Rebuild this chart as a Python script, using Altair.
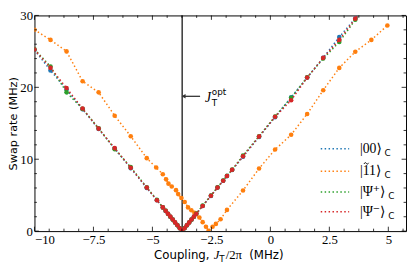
import altair as alt
import pandas as pd

# ---------------- data ----------------
X_V = [-10.0, -9.32, -8.64, -7.96, -7.28, -6.6, -5.92, -5.24, -4.81, -4.56,
       -4.44, -4.34, -4.24, -4.14, -4.04, -3.94, -3.84, -3.74, -3.64, -3.54,
       -3.44, -3.34, -3.24, -3.14,
       -2.87, -2.52, -2.24, -2.0, -1.84, -1.62, -1.16, -0.48,
       0.2, 0.88, 1.56, 2.24, 2.92, 3.6, 4.28, 4.96]
Y_00 = [25.2, 22.35, 19.7, 16.95, 14.2, 11.5, 8.75, 6.0, 4.3, 3.3,
        2.8, 2.4, 2.0, 1.6, 1.2, 0.8, 0.4, 0.02, 0.4, 0.8, 1.2, 1.6, 2.0, 2.4,
        3.5, 4.9, 6.05, 7.0, 7.65, 8.5, 10.35, 13.1,
        15.85, 18.6, 21.35, 24.1, 27.0, 29.6, 32.3, 35.0]
Y_PSIP = [25.3, 22.9, 19.3, 17.0, 14.3, 11.4, 8.9, 6.1, 4.35, 3.3,
          2.85, 2.4, 2.0, 1.6, 1.2, 0.8, 0.4, 0.02, 0.4, 0.8, 1.2, 1.6, 2.0, 2.45,
          3.55, 4.95, 6.1, 7.05, 7.7, 8.55, 10.5, 13.2,
          15.95, 18.55, 21.4, 24.0, 26.3, 29.4, 32.2, 34.9]
Y_PSIM = [25.25, 22.7, 19.9, 17.05, 14.25, 11.55, 8.8, 6.05, 4.3, 3.3,
          2.82, 2.42, 2.02, 1.61, 1.21, 0.81, 0.4, 0.02, 0.4, 0.81, 1.21, 1.61, 2.02, 2.42,
          3.5, 4.92, 6.05, 7.0, 7.66, 8.54, 10.4, 13.15,
          15.9, 18.2, 21.35, 24.1, 26.6, 29.55, 32.3, 35.05]

X_11 = [-10.0, -9.32, -8.64, -7.96, -7.28, -6.6, -5.92, -5.24,
        -4.84, -4.56, -4.42, -4.32, -4.18, -4.0, -3.91, -3.77, -3.63, -3.49,
        -3.35, -3.22, -3.01, -2.87, -2.73, -2.62, -2.45, -2.31, -2.11,
        -1.84, -1.16, -0.48, 0.2, 0.88, 1.56, 2.24, 2.92, 3.6, 4.28, 4.96]
Y_11 = [28.0, 26.6, 25.0, 20.85, 19.3, 16.05, 13.2, 10.15,
        8.85, 7.9, 7.2, 6.6, 6.2, 5.7, 5.15, 4.6, 4.05, 3.3,
        2.9, 2.55, 1.9, 1.25, 0.6, 0.05, 0.6, 1.0, 1.65,
        2.95, 5.65, 8.7, 11.35, 13.4, 16.3, 19.6, 22.7, 24.95, 26.6, 28.6]

J_OPT = -3.74
ARROW_Y = 18.75
ARROW_TAIL_X = -2.98

X_MAJOR = [-10, -7.5, -5, -2.5, 0, 2.5, 5]
X_MINOR = [-9.375, -8.75, -8.125, -6.875, -6.25, -5.625, -4.375, -3.75, -3.125,
           -1.875, -1.25, -0.625, 0.625, 1.25, 1.875, 3.125, 3.75, 4.375, 5.625]
Y_MAJOR = [0, 10, 20, 30]
Y_MINOR = [2, 4, 6, 8, 12, 14, 16, 18, 22, 24, 26, 28]

LEGEND_LABELS = ["|00⟩", "|11⟩", "|Ψ⁺⟩", "|Ψ⁻⟩"]
COLORS = ["#1f77b4", "#ff7f0e", "#2ca02c", "#d62728"]
LEGEND_Y = [11.46, 8.33, 5.45, 2.7]   # legend rows, in data units of the y axis

# ---------------- layout constants ----------------
W, H = 379, 220
X_DOMAIN = [-10, 5.75]
Y_DOMAIN = [0, 30]
SERIF = "Liberation Serif, DejaVu Serif"
SANS = "DejaVu Sans"
DASH = [1.5, 2.5]
SUB_C_X = [357, 357, 361, 361]
TILDE_PATH = "M -1 0.25 C -0.6 -0.55 -0.25 -0.45 0 0 C 0.25 0.45 0.6 0.55 1 -0.25"

X_ENC = alt.X("x:Q", scale=alt.Scale(domain=X_DOMAIN, nice=False, zero=False),
              axis=alt.Axis(values=X_MAJOR, title=None, ticks=False, domain=False, grid=False,
                            labelExpr="replace(format(datum.value, '~g'), '-', '−')",
                            labelFont=SERIF, labelFontSize=13, labelColor="black",
                            labelPadding=3, labelBaseline="top"))
Y_ENC = alt.Y("y:Q", scale=alt.Scale(domain=Y_DOMAIN, nice=False, zero=False),
              axis=alt.Axis(values=Y_MAJOR, title="Swap rate (MHz)", ticks=False, domain=False,
                            grid=False, labelFont=SERIF, labelFontSize=13, labelColor="black",
                            labelPadding=2, titleFont=SANS, titleFontSize=11.5,
                            titleFontWeight="normal", titleColor="black", titlePadding=1))

layers = []

# optimal coupling line
layers.append(alt.Chart(pd.DataFrame({"x": [J_OPT]})).mark_rule(color="black", strokeWidth=1.2)
              .encode(x=X_ENC))

series = [(X_V, Y_00, COLORS[0]), (X_11, Y_11, COLORS[1]),
          (X_V, Y_PSIP, COLORS[2]), (X_V, Y_PSIM, COLORS[3])]
for xs, ys, col in series:
    df = pd.DataFrame({"x": xs, "y": ys})
    layers.append(alt.Chart(df).mark_line(strokeDash=DASH, strokeWidth=1.5, clip=True, color=col)
                  .encode(x=X_ENC, y=Y_ENC))
    layers.append(alt.Chart(df).mark_circle(size=22, opacity=1, clip=True, color=col)
                  .encode(x=X_ENC, y=Y_ENC))

# inward ticks on all four sides
for vals, L in ((X_MAJOR, 4.5), (X_MINOR, 2.5)):
    d = pd.DataFrame({"x": vals})
    layers.append(alt.Chart(d).mark_rule(color="black", strokeWidth=0.8)
                  .encode(x=X_ENC, y=alt.value(H), y2=alt.value(H - L)))
    layers.append(alt.Chart(d).mark_rule(color="black", strokeWidth=0.8)
                  .encode(x=X_ENC, y=alt.value(0), y2=alt.value(L)))
for vals, L in ((Y_MAJOR, 4.5), (Y_MINOR, 2.5)):
    d = pd.DataFrame({"y": vals})
    layers.append(alt.Chart(d).mark_rule(color="black", strokeWidth=0.8)
                  .encode(y=Y_ENC, x=alt.value(0), x2=alt.value(L)))
    layers.append(alt.Chart(d).mark_rule(color="black", strokeWidth=0.8)
                  .encode(y=Y_ENC, x=alt.value(W), x2=alt.value(W - L)))

# annotation arrow  J_T^opt
arrow_df = pd.DataFrame({"x": [J_OPT + 0.06], "x2": [ARROW_TAIL_X], "y": [ARROW_Y]})
layers.append(alt.Chart(arrow_df).mark_rule(color="#333333", strokeWidth=1.3)
              .encode(x=X_ENC, x2="x2:Q", y=Y_ENC))
layers.append(alt.Chart(arrow_df).mark_point(shape="triangle-left", filled=True, size=22,
                                             color="#333333", opacity=1)
              .encode(x=X_ENC, y=Y_ENC))
lab_df = pd.DataFrame({"x": [ARROW_TAIL_X], "y": [ARROW_Y]})
layers.append(alt.Chart(lab_df).mark_text(text="J", font=SERIF, fontStyle="italic", fontSize=14,
                                          align="left", baseline="middle", dx=5, dy=2, color="black")
              .encode(x=X_ENC, y=Y_ENC))
layers.append(alt.Chart(lab_df).mark_text(text="opt", font=SANS, fontSize=9,
                                          align="left", baseline="middle", dx=12, dy=-4, color="black")
              .encode(x=X_ENC, y=Y_ENC))
layers.append(alt.Chart(lab_df).mark_text(text="T", font=SANS, fontSize=9,
                                          align="left", baseline="middle", dx=12, dy=7, color="black")
              .encode(x=X_ENC, y=Y_ENC))

# x-axis title: Coupling, J_T/2π (MHz)
one = pd.DataFrame({"a": [0]})
TY = H + 28
title_parts = [
    ("Coupling,", SANS, "normal", 12, 122, TY),
    ("J", SERIF, "italic", 13, 183, TY),
    ("T", SANS, "normal", 9, 188.5, TY + 3),
    ("/2π", SERIF, "normal", 13, 195, TY),
    ("(MHz)", SANS, "normal", 12, 219, TY),
]
for txt, fnt, sty, fs, px, py in title_parts:
    layers.append(alt.Chart(one).mark_text(text=txt, font=fnt, fontStyle=sty, fontSize=fs,
                                           align="left", baseline="alphabetic", color="black")
                  .encode(x=alt.value(px), y=alt.value(py)))

# legend (drawn by hand so that the subscript C can be shown)
leg = pd.DataFrame({"y": LEGEND_Y, "lab": LEGEND_LABELS, "col": COLORS})
for i, (col, cx) in enumerate(zip(COLORS, SUB_C_X)):
    row = leg.iloc[[i]]
    layers.append(alt.Chart(row).mark_rule(strokeDash=DASH, strokeWidth=1.5, color=col)
                  .encode(x=alt.value(292), x2=alt.value(321), y=Y_ENC))
    layers.append(alt.Chart(row).mark_text(font=SERIF, fontSize=14, align="left",
                                           baseline="middle", color="black")
                  .encode(x=alt.value(332), y=Y_ENC, text="lab:N"))
    layers.append(alt.Chart(row).mark_text(text="C", font=SANS, fontSize=9, align="left",
                                           baseline="middle", dy=4, color="black")
                  .encode(x=alt.value(cx), y=Y_ENC))
# tilde accent over the first 1 of |11>
layers.append(alt.Chart(leg.iloc[[1]]).mark_point(shape=TILDE_PATH, filled=False, size=22,
                                                  strokeWidth=0.9, color="black", opacity=1)
              .encode(x=alt.value(338.5), y=Y_ENC, yOffset=alt.value(-8)))

chart = (alt.layer(*layers)
         .properties(width=W, height=H,
                     autosize=alt.AutoSizeParams(type="none"),
                     padding={"left": 27, "top": 5, "right": 1, "bottom": 33})
         .configure_view(stroke="black", strokeWidth=1))

chart.save("out.html", embed_options={"renderer": "svg", "actions": False})
